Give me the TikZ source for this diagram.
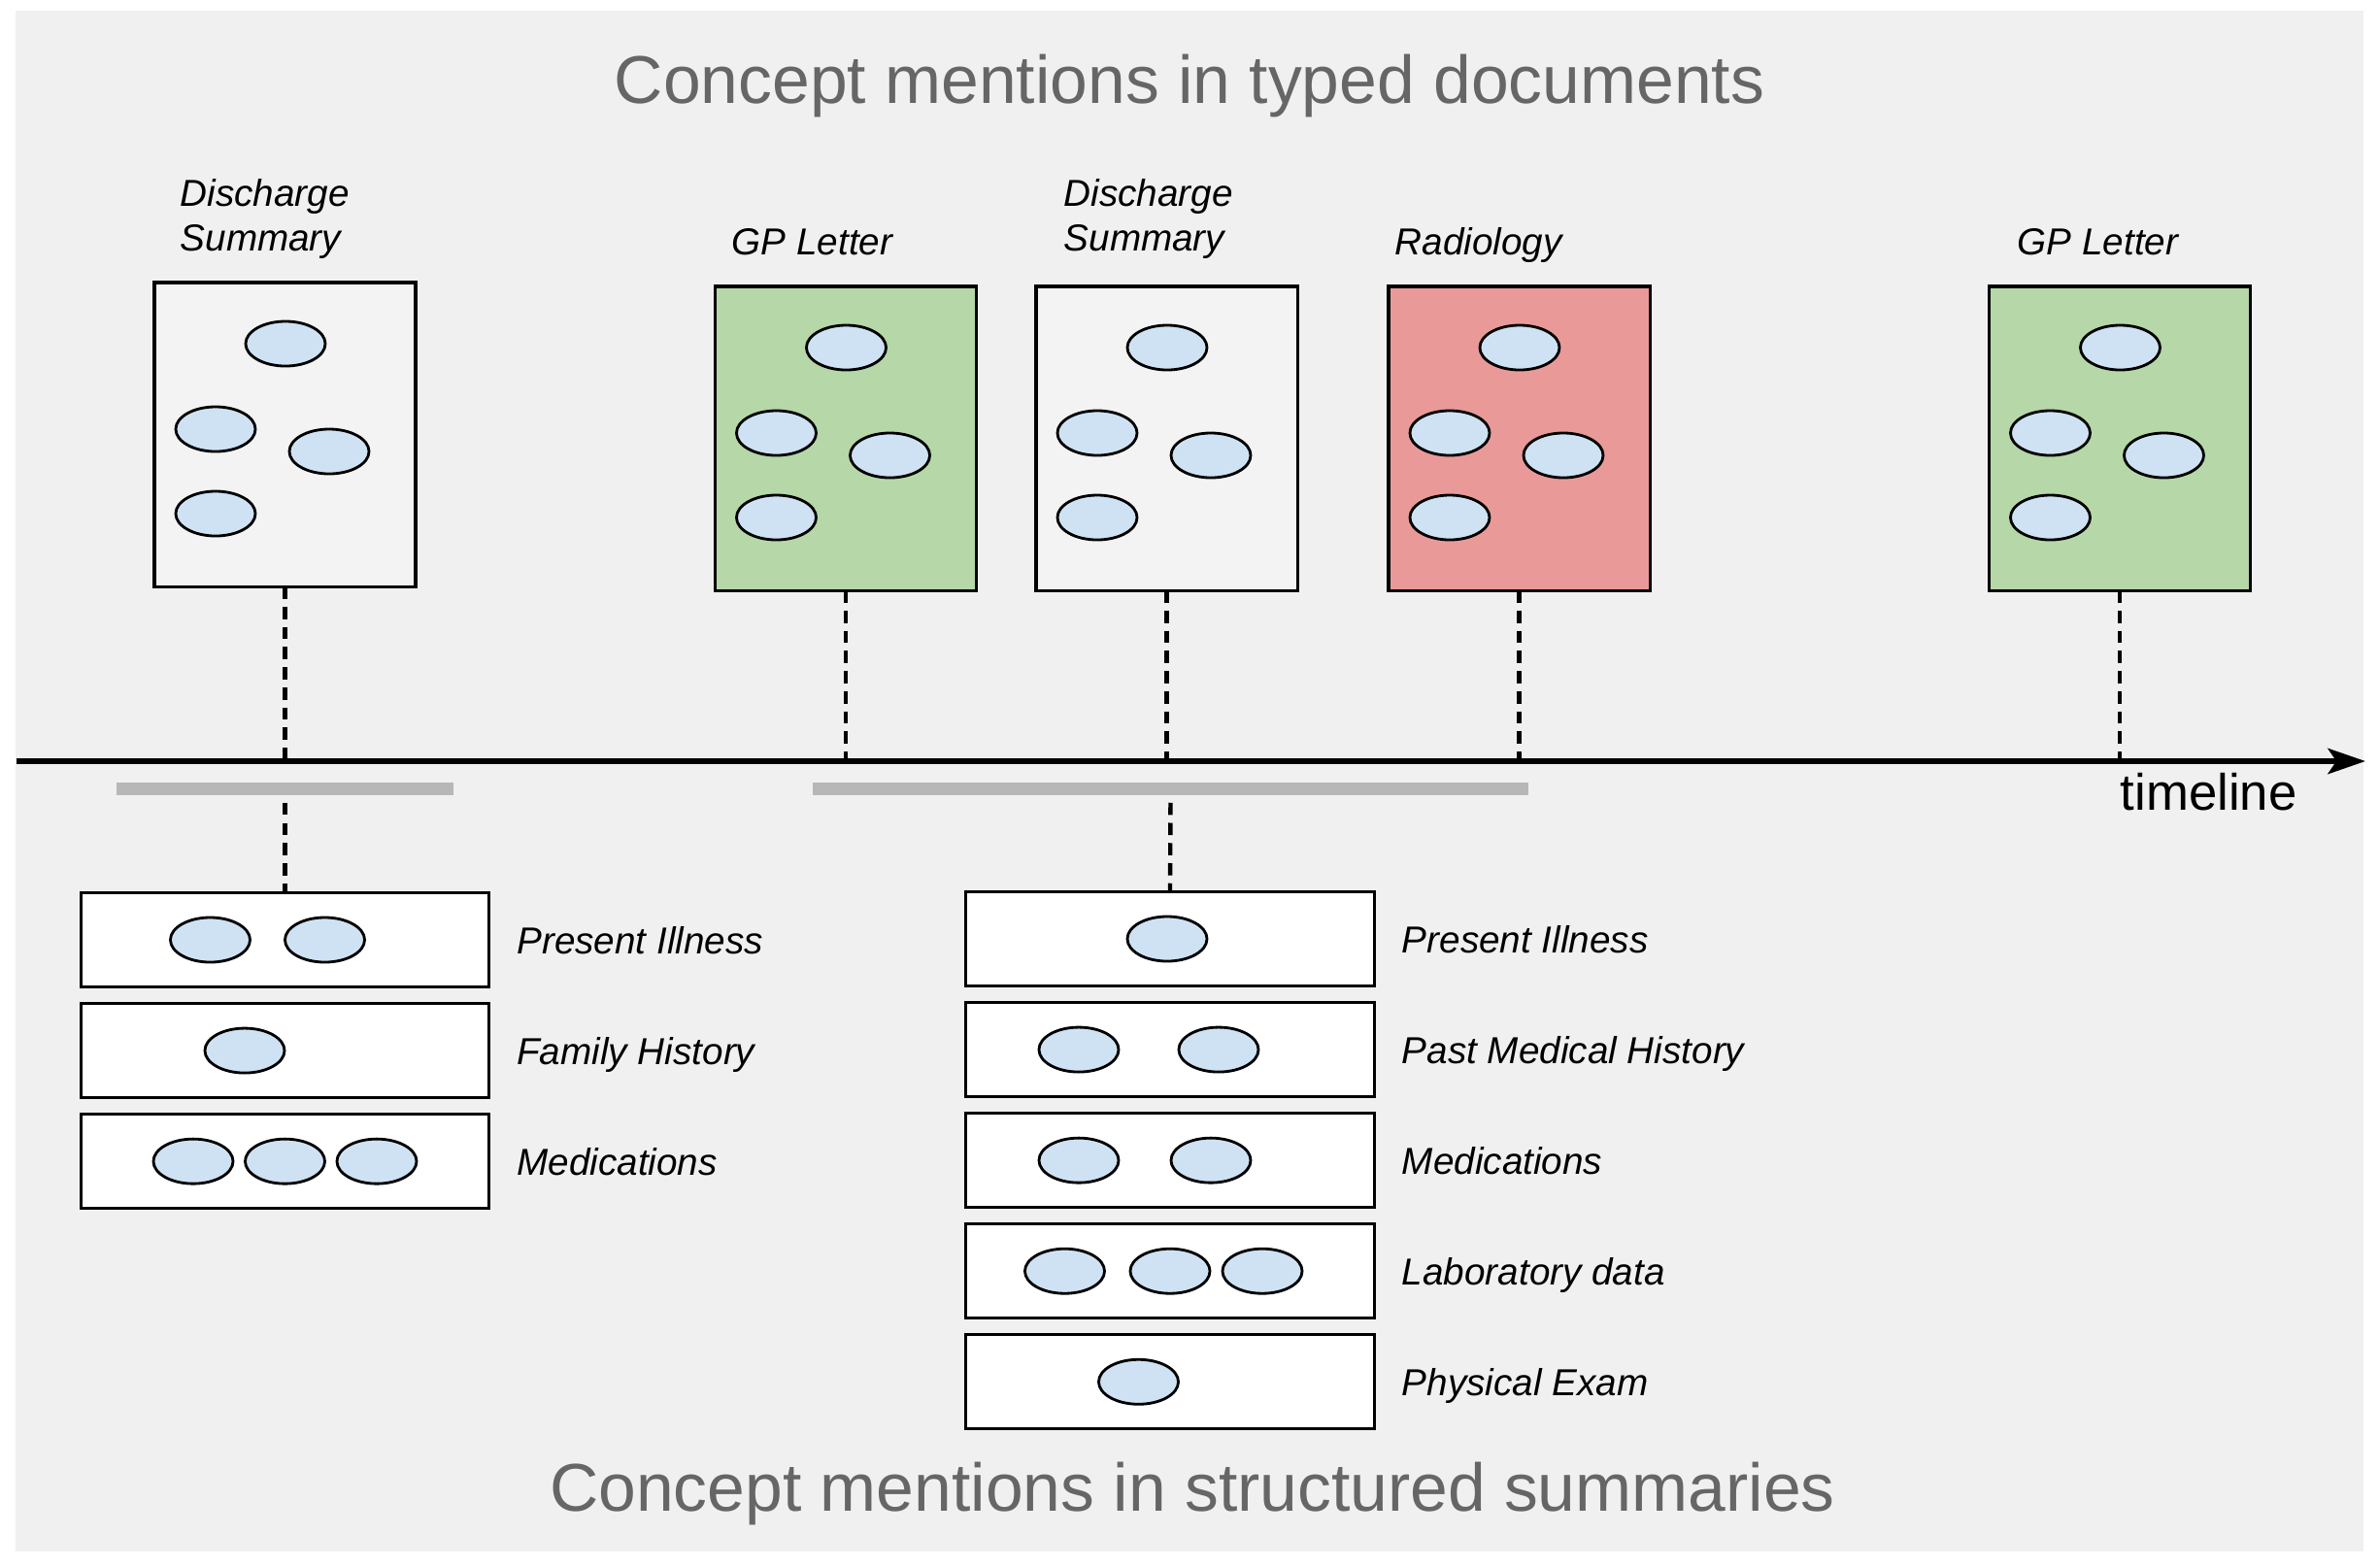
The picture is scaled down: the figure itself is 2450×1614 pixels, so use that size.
\documentclass[tikz,border=0pt]{standalone}
\usepackage{fontspec}
\setmainfont{Liberation Sans}
\usetikzlibrary{arrows.meta,shapes.geometric,positioning}

\definecolor{bggray}{HTML}{F0F0F0}
\definecolor{docwhite}{HTML}{F3F3F3}
\definecolor{docgreen}{HTML}{B6D7A8}
\definecolor{docred}{HTML}{EA9999}
\definecolor{mentionblue}{HTML}{CFE2F3}
\definecolor{titlegray}{HTML}{666666}
\definecolor{bargray}{HTML}{B7B7B7}

\tikzset{
    docbox/.style={draw, line width=0.9pt, minimum width=2.69cm, minimum height=3.13cm, inner sep=0pt, outer sep=0pt},
    secbox/.style={draw, line width=0.9pt, fill=white, minimum width=4.2cm, minimum height=0.97cm, inner sep=0pt, outer sep=0pt},
    mention/.style={ellipse, draw, line width=0.8pt, fill=mentionblue, minimum width=0.82cm, minimum height=0.46cm, inner sep=0pt},
    doclabel/.style={font=\fontsize{11}{13.1}\selectfont\itshape, align=left, inner sep=0pt},
    seclabel/.style={font=\fontsize{11}{13}\selectfont\itshape, anchor=base west, inner sep=0pt},
    heading/.style={font=\fontsize{19.8}{24}\selectfont, text=titlegray, anchor=base},
    dashline/.style={line width=1.25pt, dash pattern=on 3.6pt off 2.3pt},
    periodbar/.style={fill=bargray, minimum height=0.13cm, inner sep=0pt}
}

\begin{document}
\begin{tikzpicture}[x=0.01cm, y=-0.01cm]
        % background
        \useasboundingbox (0,0) rectangle (2450,1614);
        \fill[white] (0,0) rectangle (2450,1614);
        \fill[bggray] (16,11) rectangle (2434,1598);

        % headings
        \node[heading] (toptitle) at (1225,106) {Concept mentions in typed documents};
        \node[heading] (bottomtitle) at (1228,1556) {Concept mentions in structured summaries};

        % timeline
        \coordinate (tlstart) at (17,784);
        \coordinate (tlend) at (2436,784);
        \draw[line width=1.5pt, -{Stealth[length=11pt, width=7.5pt, inset=2.5pt]}] (tlstart) -- (tlend);
        \node[anchor=base west, inner sep=0pt, font=\fontsize{15}{18}\selectfont] (tllabel) at (2183,834) {timeline};

        % typed documents
        \foreach \name/\cx/\cy/\col in {dsa/293.5/447.5/docwhite, gpa/871/451.5/docgreen, dsb/1201.5/451.5/docwhite, rad/1564.5/451.5/docred, gpb/2183/451.5/docgreen} {
            \node[docbox, fill=\col] (\name) at (\cx,\cy) {};
            \foreach \dx/\dy [count=\i] in {0.5/-93.5, -71.5/-5.5, 45.5/17.5, -71.5/81.5}
                \node[mention] (\name-\i) at ([shift={(\dx,\dy)}]\name.center) {};
            \draw[dashline] (\name.south) -- (\name.south |- tlstart);
        }

        % document labels
        \node[doclabel, anchor=north west] (dsa-label) at (185,184) {Discharge\\Summary};
        \node[doclabel, anchor=base west] (gpa-label) at (753,262) {GP Letter};
        \node[doclabel, anchor=north west] (dsb-label) at (1095,184) {Discharge\\Summary};
        \node[doclabel, anchor=base west] (rad-label) at (1436,262) {Radiology};
        \node[doclabel, anchor=base west] (gpb-label) at (2077,262) {GP Letter};

        % periods
        \node[periodbar, minimum width=3.46cm] (bara) at (293.5,812.5) {};
        \node[periodbar, minimum width=7.37cm] (barb) at (1205.5,812.5) {};

        % first summary
        \node[secbox] (sa1) at (293.5,968) {};
        \node[secbox, below=0.17cm of sa1] (sa2) {};
        \node[secbox, below=0.17cm of sa2] (sa3) {};
        \draw[dashline, shorten <=2pt] (bara.south) -- (sa1.north);

        \foreach \dx [count=\i] in {-77,41}
            \node[mention] (sa1-\i) at ([shift={(\dx,0)}]sa1.center) {};
        \node[mention] (sa2-1) at ([shift={(-41.5,0)}]sa2.center) {};
        \foreach \dx [count=\i] in {-94.5,0,94.5}
            \node[mention] (sa3-\i) at ([shift={(\dx,0)}]sa3.center) {};

        \node[seclabel] (sa1-label) at ([xshift=0.28cm, yshift=-0.14cm]sa1.east) {Present Illness};
        \node[seclabel] (sa2-label) at ([xshift=0.28cm, yshift=-0.14cm]sa2.east) {Family History};
        \node[seclabel] (sa3-label) at ([xshift=0.28cm, yshift=-0.14cm]sa3.east) {Medications};

        % second summary
        \node[secbox] (sb1) at (1205,967) {};
        \node[secbox, below=0.17cm of sb1] (sb2) {};
        \node[secbox, below=0.17cm of sb2] (sb3) {};
        \node[secbox, below=0.17cm of sb3] (sb4) {};
        \node[secbox, below=0.17cm of sb4] (sb5) {};
        \draw[dashline, shorten <=2pt] (barb.south) -- (sb1.north);

        \node[mention] (sb1-1) at ([shift={(-3,0)}]sb1.center) {};
        \foreach \dx [count=\i] in {-94,50}
            \node[mention] (sb2-\i) at ([shift={(\dx,0)}]sb2.center) {};
        \foreach \dx [count=\i] in {-94,42}
            \node[mention] (sb3-\i) at ([shift={(\dx,0)}]sb3.center) {};
        \foreach \dx [count=\i] in {-108.5,0,95}
            \node[mention] (sb4-\i) at ([shift={(\dx,0)}]sb4.center) {};
        \node[mention] (sb5-1) at ([shift={(-32.5,0)}]sb5.center) {};

        \node[seclabel] (sb1-label) at ([xshift=0.28cm, yshift=-0.14cm]sb1.east) {Present Illness};
        \node[seclabel] (sb2-label) at ([xshift=0.28cm, yshift=-0.14cm]sb2.east) {Past Medical History};
        \node[seclabel] (sb3-label) at ([xshift=0.28cm, yshift=-0.14cm]sb3.east) {Medications};
        \node[seclabel] (sb4-label) at ([xshift=0.28cm, yshift=-0.14cm]sb4.east) {Laboratory data};
        \node[seclabel] (sb5-label) at ([xshift=0.28cm, yshift=-0.14cm]sb5.east) {Physical Exam};
\end{tikzpicture}
\end{document}
